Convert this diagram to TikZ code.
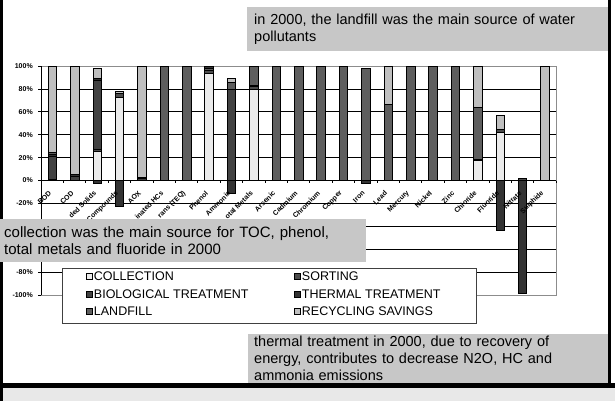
\documentclass[tikz,border=0pt]{standalone}
\usepackage{fontspec}
\setmainfont{Liberation Sans}
\usepackage{tikz}
\usetikzlibrary{positioning}
\colorlet{collgray}{black!8}
\colorlet{sortgray}{black!70}
\colorlet{biogray}{black!74}
\colorlet{thermgray}{black!80}
\colorlet{landgray}{black!63}
\colorlet{recygray}{black!25}
\colorlet{notegray}{black!22}
\colorlet{plotgray}{black!45}

\tikzset{
  barseg/.style={fill=#1, draw=black, line width=0.35pt},
  gridline/.style={black, line width=0.6pt},
  axisline/.style={black, line width=0.6pt},
  plotframe/.style={plotgray, line width=0.6pt},
  note/.style={anchor=north west, fill=notegray, inner ysep=0pt, align=left,
    font=\fontsize{14.5}{17}\selectfont},
  catlabel/.style={anchor=east, rotate=45, inner sep=0pt,
    font=\fontsize{7}{8}\selectfont\bfseries},
  vallabel/.style={anchor=east, inner sep=0pt,
    font=\fontsize{7}{8}\selectfont\bfseries},
  swatch/.style={draw=black, line width=0.5pt, minimum size=6pt, inner sep=0pt},
  legtext/.style={inner sep=0.5pt, font=\fontsize{12.5}{14}\selectfont}
}

\begin{document}
\begin{tikzpicture}[x=1pt,y=-1pt]
\useasboundingbox (0,0) rectangle (615,401);

% slide frame
\fill[black!9] (0,386) rectangle (615,401);
\fill (0,0) rectangle (3,401);
\fill (608,0) rectangle (611,386);
\fill (0,383) rectangle (615,388);

% chart: x = category, y = percent
\begin{scope}[shift={(41,180.5)},x=22.39pt,y=1.145pt]
  \foreach \v in {-80,-60,...,80}
    \draw[gridline] (0,\v) -- (23,\v);
  \draw[plotframe] (0,100) -- (23,100) -- (23,-100) -- (0,-100);
  \foreach \i/\a/\b/\c in {
      0/0/1/sortgray, 0/1/21/biogray, 0/21/23/thermgray, 0/23/25/landgray, 0/25/100/recygray,
      1/0/4/biogray, 1/4/5.5/thermgray, 1/5.5/100/recygray,
      2/-2.5/0/thermgray, 2/0/26/collgray, 2/26/27/sortgray, 2/27/88/biogray, 2/88/89/thermgray, 2/89/98/recygray,
      3/-22/0/thermgray, 3/0/73/collgray, 3/73/76/sortgray, 3/76/78/recygray,
      4/0/2/biogray, 4/2/3/thermgray, 4/3/100/recygray,
      5/0/100/landgray,
      6/0/100/landgray,
      7/0/94/collgray, 7/94/96/sortgray, 7/96/98.5/landgray, 7/98.5/100/thermgray,
      8/-11/0/thermgray, 8/0/80/biogray, 8/80/86/landgray, 8/86/89/recygray,
      9/0/80/collgray, 9/80/82/sortgray, 9/82/83.5/thermgray, 9/83.5/100/landgray,
      10/0/100/landgray, 11/0/100/landgray, 12/0/100/landgray, 13/0/100/landgray,
      14/-2/0/thermgray, 14/0/98/landgray,
      15/0/67/landgray, 15/67/100/recygray,
      16/0/100/landgray, 17/0/100/landgray, 18/0/100/landgray,
      19/0/18/collgray, 19/18/19/sortgray, 19/19/64/landgray, 19/64/100/recygray,
      20/-43/0/thermgray, 20/0/42/collgray, 20/42/45/sortgray, 20/45/57/recygray,
      21/-98/0/thermgray, 21/0/2/sortgray,
      22/0/100/recygray}
    \filldraw[barseg=\c] (\i+0.31,\a) rectangle (\i+0.69,\b);
  \draw[axisline] (0,-100) -- (0,100);
  \draw[axisline] (0,0) -- (23,0);
  \foreach \k in {0,...,23}
    \draw[axisline] (\k,0) -- (\k,-2.6);
  \foreach \v in {-100,-80,...,100}
    \draw[axisline] (0,\v) -- (-0.13,\v);
  \foreach \v [count=\n] in {100,80,60,40,20,0,-20,-80,-100}
    \node[vallabel] (val\n) at (-0.36,\v) {\v\%};
  \foreach \lbl [count=\i from 0] in {BOD, COD, ded Solids, Compounds, AOX,
      inated HCs, rans (TEQ), Phenol, Ammonia, otal Metals, Arsenic, Cadmium,
      Chromium, Copper, Iron, Lead, Mercury, Nickel, Zinc, Chloride, Fluoride,
      Nitrate, Sulphide}
    \node[catlabel] (cat\i) at (\i+0.41,-10) {\lbl};
\end{scope}

% notes
\node[note, inner xsep=7pt, text width=347pt, minimum height=44pt] (landfillnote) at (247,7)
  {in 2000, the landfill was the main source of water\\pollutants};
\node[note, inner xsep=4pt, text width=358pt, minimum height=43pt,
  font=\fontsize{15}{17}\selectfont] (collnote) at (0,219)
  {collection was the main source for TOC, phenol,\\total metals and fluoride in 2000};
\node[note, inner xsep=6pt, text width=348pt, minimum height=49pt] (thermnote) at (248,334)
  {thermal treatment in 2000, due to recovery of\\energy, contributes to decrease N2O, HC and\\ammonia emissions};

% legend
\node[draw=black!75, fill=white, line width=0.8pt, anchor=north west, inner sep=0pt,
  minimum width=414pt, minimum height=55pt] (legend) at (62,268) {};
\node[swatch, fill=collgray] (swcoll) at (89,276.5) {};
\node[legtext, right=1pt of swcoll] (txcoll) {COLLECTION};
\node[swatch, fill=sortgray] (swsort) at (297,276.5) {};
\node[legtext, right=1pt of swsort] (txsort) {SORTING};
\node[swatch, fill=biogray] (swbio) at (89,294) {};
\node[legtext, right=1pt of swbio] (txbio) {BIOLOGICAL TREATMENT};
\node[swatch, fill=thermgray] (swtherm) at (297,294) {};
\node[legtext, right=1pt of swtherm] (txtherm) {THERMAL TREATMENT};
\node[swatch, fill=landgray] (swland) at (89,311.5) {};
\node[legtext, right=1pt of swland] (txland) {LANDFILL};
\node[swatch, fill=recygray] (swrecy) at (297,311.5) {};
\node[legtext, right=1pt of swrecy] (txrecy) {RECYCLING SAVINGS};
\end{tikzpicture}
\end{document}
